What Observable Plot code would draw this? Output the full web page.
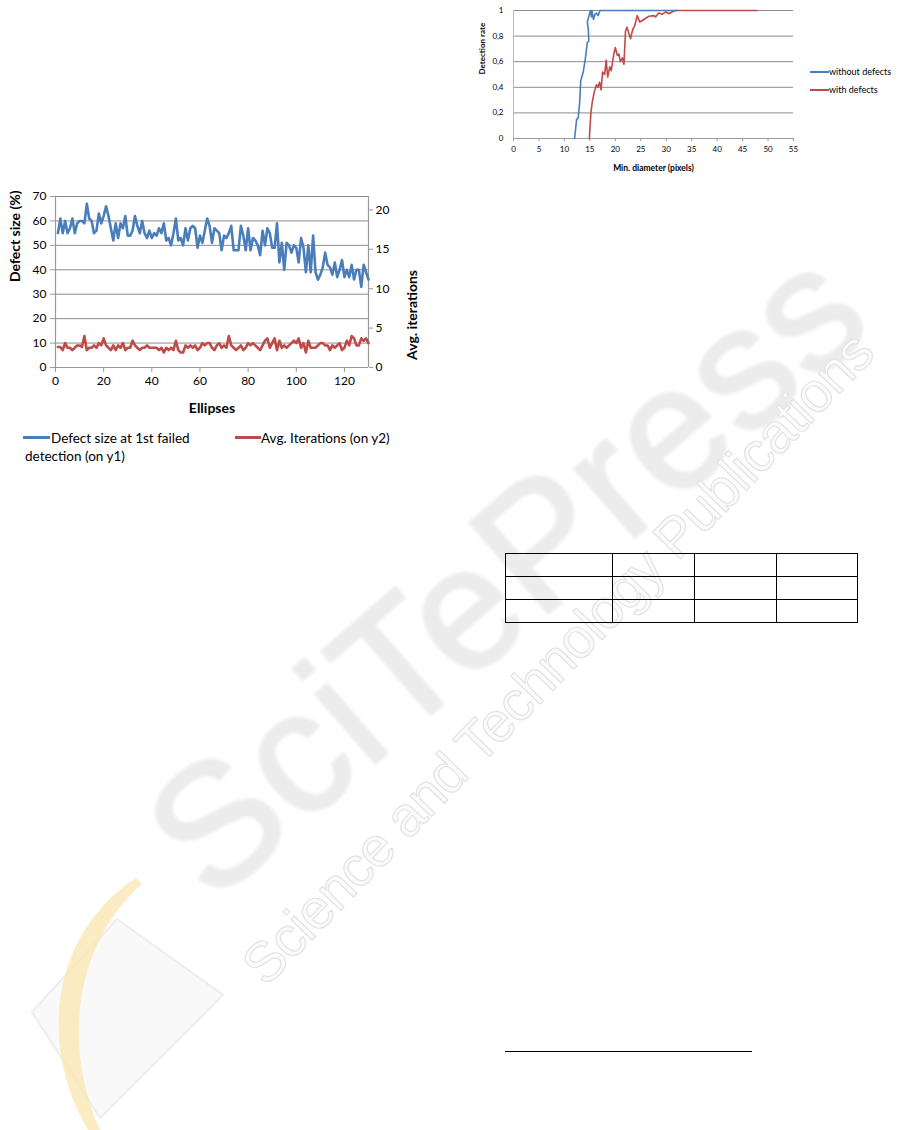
<!DOCTYPE html>
<html>
<head>
<meta charset="utf-8">
<script src="https://cdn.jsdelivr.net/npm/d3@7"></script>
<script src="https://cdn.jsdelivr.net/npm/@observablehq/plot@0.6"></script>
<style>
  html, body { margin: 0; padding: 0; background: #fff; }
  #page { position: relative; width: 915px; height: 1130px; overflow: hidden; background: #fff; font-family: Lato, "Open Sans", sans-serif; }
  .abs { position: absolute; }
  .leg { position: absolute; white-space: nowrap; color: #000; }
  #wm { position: absolute; left: 0; top: 0; z-index: 0; }
  #left, #right { position: absolute; z-index: 1; }
  table.t { position: absolute; left: 505px; top: 553px; border-collapse: collapse; z-index: 1; }
  table.t td { border: 1.5px solid #000; padding: 0; height: 22px; }
</style>
</head>
<body>
<div id="page">
  <svg id="wm" width="915" height="1130">
    <defs><filter id="soft"><feGaussianBlur stdDeviation="1.6"/></filter></defs>
    <polygon points="32,1012 117,919 223,995 100,1118" fill="#f9f9f9" stroke="#ededed" stroke-width="2"/>
    <path d="M136,878 C55,930 35,1040 88,1130 L100,1130 C60,1040 78,940 142,884 Z" fill="#fbe6b0" opacity="0.75"/>
    <text transform="translate(212,905) rotate(-41)" font-family="Liberation Sans, sans-serif" font-size="172" textLength="880" lengthAdjust="spacing" fill="#ececec" stroke="#ececec" stroke-width="3" filter="url(#soft)">SciTePress</text>
    <text transform="translate(266,988) rotate(-46)" font-family="Liberation Sans, sans-serif" font-size="56" textLength="880" lengthAdjust="spacing" fill="#fbfbfb" stroke="#e3e3e3" stroke-width="1.2">Science and Technology Publications</text>
  </svg>
  <div id="right"></div>
  <div id="left"></div>
  <table class="t">
    <tr><td style="width:106px"></td><td style="width:81px"></td><td style="width:81px"></td><td style="width:80px"></td></tr>
    <tr><td></td><td></td><td></td><td></td></tr>
    <tr><td></td><td></td><td></td><td></td></tr>
  </table>
  <div class="abs" style="left:505px;top:1051px;width:247px;height:1px;background:#000;z-index:1"></div>
</div>
<script>
// ---------- Left chart data (Ellipses) ----------
const defectSize = [
  55,61,55,60,55,57,61,55,59,60,
  60,59,67,61,60,55,56,63,59,62,
  66,62,57,52,59,53,59,57,62,54,
  54,56,62,58,55,60,55,53,56,53,
  55,54,57,55,59,52,53,50,55,61,
  52,53,50,57,52,57,58,57,49,54,
  51,56,61,58,51,57,56,55,48,54,
  53,55,58,48,48,48,58,54,48,57,
  48,53,52,50,46,56,50,57,55,49,
  49,59,43,51,40,51,50,47,50,49,
  43,53,49,39,50,39,54,39,36,38,
  41,47,42,41,38,43,37,40,44,37,
  40,37,42,36,40,40,33,42,39,36
];
const avgIterations = [
  2.6,2.6,2.2,3.1,2.5,2.5,2.2,2.5,2.8,2.8,
  2.6,4.0,2.2,2.5,2.5,2.8,2.5,3.1,2.8,3.7,
  2.8,2.5,2.2,2.8,2.2,2.8,2.5,3.1,2.2,2.5,
  2.5,3.4,2.8,2.5,2.2,2.5,2.5,2.8,2.5,2.5,
  2.5,2.5,2.2,2.5,1.9,2.5,2.2,2.5,2.2,3.4,
  2.2,1.9,1.9,2.8,2.5,2.8,2.5,2.8,2.2,2.5,
  3.1,2.8,3.1,3.1,2.5,2.2,2.8,3.1,2.5,2.8,
  2.5,4.0,2.8,2.5,2.2,2.5,2.8,2.2,2.5,3.1,
  2.8,3.1,2.8,2.5,2.2,2.8,3.4,3.7,2.5,3.1,
  3.7,2.2,3.4,2.5,2.8,2.5,2.8,3.1,3.4,3.1,
  3.7,2.5,3.1,1.9,3.4,2.5,2.5,2.5,2.8,3.1,
  3.1,2.8,2.8,2.2,2.8,2.5,2.8,3.1,2.2,2.5,
  3.4,2.8,4.0,3.7,2.8,2.8,3.7,3.4,3.7,3.1
];
const xTicksL = [0,20,40,60,80,100,120];
const y1Ticks = [0,10,20,30,40,50,60,70];
const y2Ticks = [0,5,10,15,20];
const y1Max = 70, y2Max = 21.7;

// ---------- Right chart data (Detection rate) ----------
const woX = [12.0,12.4,12.7,13.0,13.2,13.7,14.1,14.5,14.8,14.7,14.5,14.9,15.1,15.3,15.4,15.7,16.0,16.3,16.6,17.0,32.2];
const woY = [0,0.15,0.16,0.28,0.45,0.52,0.62,0.75,0.76,0.85,0.91,0.97,1.0,0.95,1.0,0.93,0.97,0.98,0.96,1.0,1.0];
const wX = [14.9,15.2,15.5,15.9,16.3,16.6,16.9,17.2,17.5,17.9,18.2,18.5,18.9,19.2,19.7,20.0,20.4,20.7,21.0,21.4,21.7,22.0,22.3,22.6,23.0,23.4,23.8,24.3,24.8,25.6,26.6,27.6,27.9,28.5,29.2,29.9,30.5,31.2,31.8,47.8];
const wY = [0,0.2,0.29,0.37,0.42,0.4,0.44,0.38,0.52,0.5,0.61,0.48,0.56,0.53,0.66,0.71,0.65,0.66,0.6,0.63,0.58,0.84,0.87,0.83,0.78,0.85,0.88,0.96,0.91,0.93,0.955,0.96,0.95,0.98,0.97,0.99,0.975,0.99,1.0,1.0];
const xTicksR = [0,5,10,15,20,25,30,35,40,45,50,55];
const yTicksR = [0,0.2,0.4,0.6,0.8,1];

const BLUE = "#4a7ebb", RED = "#be4b48", GRID = "#8c8c8c";

// ---------- Left chart ----------
const k = y1Max / y2Max;
const leftData = defectSize.map((v, i) => ({ e: i + 1, d: v, a: avgIterations[i] * k }));
const left = Plot.plot({
  width: 420, height: 250,
  marginLeft: 55, marginRight: 52, marginTop: 16, marginBottom: 63,
  style: { fontFamily: "Lato, sans-serif", fontSize: "12px", color: "#000", background: "transparent" },
  x: { domain: [0, 130], label: null },
  y: { domain: [0, y1Max], label: null },
  marks: [
    Plot.gridY(y1Ticks, { stroke: GRID, strokeOpacity: 1, strokeWidth: 1 }),
    Plot.ruleX([0, 130], { stroke: "#9a9a9a", strokeWidth: 1.2 }),
    Plot.ruleY([0], { stroke: "#9a9a9a", strokeWidth: 1.2 }),
    Plot.axisX(xTicksL, { tickSize: 5, tickPadding: 4, stroke: "#9a9a9a", fontSize: 12 }),
    Plot.axisY(y1Ticks, { tickSize: 5, tickPadding: 4, stroke: "#9a9a9a", fontSize: 12 }),
    Plot.axisY(y2Ticks.map(t => t * k), { anchor: "right", tickSize: 4, tickPadding: 3, stroke: "#9a9a9a", fontSize: 12, tickFormat: d => String(Math.round(d / k)) }),
    Plot.line(leftData, { x: "e", y: "a", stroke: RED, strokeWidth: 2.6, curve: "linear" }),
    Plot.line(leftData, { x: "e", y: "d", stroke: BLUE, strokeWidth: 2.6, curve: "linear" }),
    Plot.text(["Defect size (%)"], { frameAnchor: "left", dx: -40, rotate: -90, fontWeight: "bold", fontSize: 14 }),
    Plot.text(["Avg. iterations"], { frameAnchor: "right", dx: 44, dy: -12, rotate: -90, fontWeight: "bold", fontSize: 14 }),
    Plot.text(["Ellipses"], { frameAnchor: "bottom", dy: 45, fontWeight: "bold", fontSize: 14 })
  ]
});
const leftDiv = document.getElementById("left");
leftDiv.style.left = "0px"; leftDiv.style.top = "180px";
leftDiv.appendChild(left);

// legend (left chart)
const page = document.getElementById("page");
function addLeg(html, style) {
  const d = document.createElement("div");
  d.className = "leg";
  d.style.cssText += style;
  d.style.zIndex = 2;
  d.innerHTML = html;
  page.appendChild(d);
}
addLeg("", "left:23px;top:436px;width:27px;height:3px;background:" + BLUE);
addLeg("Defect size at 1st failed", "left:51px;top:429px;font-size:13.5px;line-height:18px");
addLeg("detection (on y1)", "left:25px;top:447px;font-size:13.5px;line-height:18px");
addLeg("", "left:235px;top:436px;width:26px;height:3px;background:" + RED);
addLeg("Avg. Iterations (on y2)", "left:261px;top:429px;font-size:13.5px;line-height:18px");

// ---------- Right chart ----------
const woData = woX.map((x, i) => ({ x, y: woY[i] }));
const wData = wX.map((x, i) => ({ x, y: wY[i] }));
const fmt = d => String(d).replace(".", ",");
const right = Plot.plot({
  width: 440, height: 185,
  marginLeft: 43, marginRight: 117, marginTop: 10, marginBottom: 47,
  style: { fontFamily: "Lato, sans-serif", fontSize: "8px", color: "#000", background: "transparent" },
  x: { domain: [0, 55], label: null },
  y: { domain: [0, 1], label: null },
  marks: [
    Plot.gridY(yTicksR, { stroke: GRID, strokeOpacity: 1, strokeWidth: 1 }),
    Plot.ruleY([0], { stroke: "#9a9a9a" }),
    Plot.ruleX([0], { stroke: "#bbbbbb" }),
    Plot.axisX(xTicksR, { tickSize: 3, tickPadding: 5, stroke: "#9a9a9a", fontSize: 8 }),
    Plot.axisY(yTicksR, { tickSize: 0, tickPadding: 10, fontSize: 8, tickFormat: fmt }),
    Plot.line(wData, { x: "x", y: "y", stroke: RED, strokeWidth: 1.6 }),
    Plot.line(woData, { x: "x", y: "y", stroke: BLUE, strokeWidth: 1.6 }),
    Plot.text(["Detection rate"], { frameAnchor: "left", dx: -31, rotate: -90, fontWeight: "bold", fontSize: 8 }),
    Plot.text(["Min. diameter (pixels)"], { frameAnchor: "bottom", dy: 32, fontWeight: "bold", fontSize: 8.5 })
  ]
});
const rightDiv = document.getElementById("right");
rightDiv.style.left = "470px"; rightDiv.style.top = "0px";
rightDiv.appendChild(right);

addLeg("", "left:810px;top:71px;width:19px;height:1.6px;background:" + BLUE);
addLeg("without defects", "left:829px;top:65px;font-size:9px;line-height:13px");
addLeg("", "left:810px;top:89px;width:19px;height:1.6px;background:" + RED);
addLeg("with defects", "left:829px;top:83px;font-size:9px;line-height:13px");
</script>
</body>
</html>
